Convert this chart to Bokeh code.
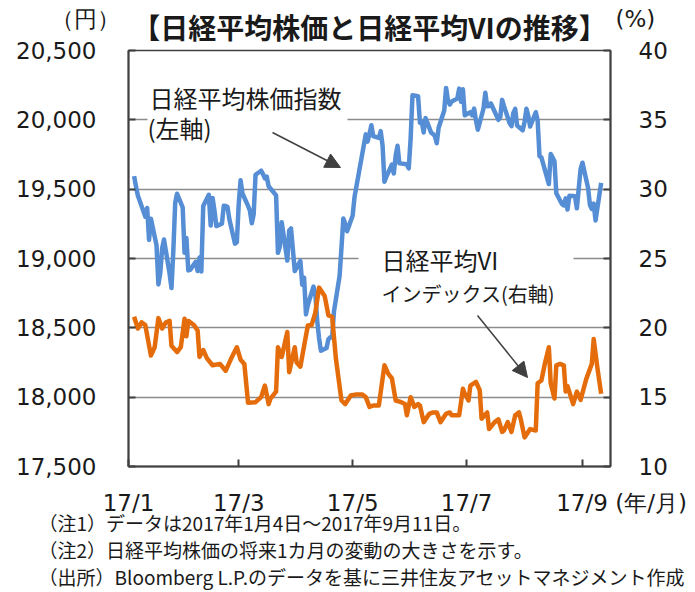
import pandas as pd
from bokeh.plotting import figure
from bokeh.models import (Range1d, LinearAxis, FixedTicker, Title,
                          CustomJSTickFormatter, Label, Arrow, NormalHead, BoxAnnotation)
from bokeh.embed import file_html
from bokeh.resources import INLINE

# ---------------- data ----------------
nikkei_dates = [
    "2017-01-04", "2017-01-05", "2017-01-06", "2017-01-10", "2017-01-11", "2017-01-12", "2017-01-13",
    "2017-01-16", "2017-01-17", "2017-01-18", "2017-01-19", "2017-01-20", "2017-01-23", "2017-01-24",
    "2017-01-25", "2017-01-26", "2017-01-27", "2017-01-30", "2017-01-31",
    "2017-02-01", "2017-02-02", "2017-02-03", "2017-02-06", "2017-02-07", "2017-02-08", "2017-02-09",
    "2017-02-10", "2017-02-13", "2017-02-14", "2017-02-15", "2017-02-16", "2017-02-17", "2017-02-20",
    "2017-02-21", "2017-02-22", "2017-02-23", "2017-02-24", "2017-02-27", "2017-02-28",
    "2017-03-01", "2017-03-02", "2017-03-03", "2017-03-06", "2017-03-07", "2017-03-08", "2017-03-09",
    "2017-03-10", "2017-03-13", "2017-03-14", "2017-03-15", "2017-03-16", "2017-03-17", "2017-03-21",
    "2017-03-22", "2017-03-23", "2017-03-24", "2017-03-27", "2017-03-28", "2017-03-29", "2017-03-30",
    "2017-03-31",
    "2017-04-03", "2017-04-04", "2017-04-05", "2017-04-06", "2017-04-07", "2017-04-10", "2017-04-11",
    "2017-04-12", "2017-04-13", "2017-04-14", "2017-04-17", "2017-04-18", "2017-04-19", "2017-04-20",
    "2017-04-21", "2017-04-24", "2017-04-25", "2017-04-26", "2017-04-27", "2017-04-28",
    "2017-05-01", "2017-05-02", "2017-05-08", "2017-05-09", "2017-05-10", "2017-05-11", "2017-05-12",
    "2017-05-15", "2017-05-16", "2017-05-17", "2017-05-18", "2017-05-19", "2017-05-22", "2017-05-23",
    "2017-05-24", "2017-05-25", "2017-05-26", "2017-05-29", "2017-05-30", "2017-05-31",
    "2017-06-01", "2017-06-02", "2017-06-05", "2017-06-06", "2017-06-07", "2017-06-08", "2017-06-09",
    "2017-06-12", "2017-06-13", "2017-06-14", "2017-06-15", "2017-06-16", "2017-06-19", "2017-06-20",
    "2017-06-21", "2017-06-22", "2017-06-23", "2017-06-26", "2017-06-27", "2017-06-28", "2017-06-29",
    "2017-06-30",
    "2017-07-03", "2017-07-04", "2017-07-05", "2017-07-06", "2017-07-07", "2017-07-10", "2017-07-11",
    "2017-07-12", "2017-07-13", "2017-07-14", "2017-07-18", "2017-07-19", "2017-07-20", "2017-07-21",
    "2017-07-24", "2017-07-25", "2017-07-26", "2017-07-27", "2017-07-28", "2017-07-31",
    "2017-08-01", "2017-08-02", "2017-08-03", "2017-08-04", "2017-08-07", "2017-08-08", "2017-08-09",
    "2017-08-10", "2017-08-14", "2017-08-15", "2017-08-16", "2017-08-17", "2017-08-18", "2017-08-21",
    "2017-08-22", "2017-08-23", "2017-08-24", "2017-08-25", "2017-08-28", "2017-08-29", "2017-08-30",
    "2017-08-31",
    "2017-09-01", "2017-09-04", "2017-09-05", "2017-09-06", "2017-09-07", "2017-09-08", "2017-09-11",
]
nikkei_values = [
    19594, 19520, 19454, 19301, 19364, 19134, 19287, 19095, 18813, 18894, 19072, 19137, 18891, 18787,
    19057, 19402, 19467, 19368, 19041,
    19148, 18914, 18918, 18976, 18910, 19007, 18907, 19378, 19459, 19238, 19437, 19347, 19234, 19251,
    19381, 19379, 19371, 19283, 19107, 19118,
    19393, 19564, 19469, 19379, 19344, 19254, 19318, 19604, 19633, 19609, 19577, 19590, 19521, 19455,
    19041, 19085, 19262, 18985, 19202, 19217, 19063, 18909,
    18983, 18810, 18861, 18597, 18664, 18797, 18747, 18552, 18426, 18335, 18355, 18418, 18432, 18430,
    18620, 18875, 19079, 19289, 19251, 19196,
    19310, 19445, 19895, 19843, 19900, 19961, 19883, 19869, 19919, 19814, 19553, 19590, 19678, 19613,
    19742, 19813, 19686, 19682, 19677, 19650,
    19860, 20177, 20170, 19979, 19984, 19909, 20013, 19908, 19898, 19883, 19831, 19943, 20067, 20230,
    20138, 20110, 20132, 20153, 20225, 20130, 20220, 20033,
    20055, 20032, 20081, 19994, 19929, 20080, 20195, 20098, 20099, 20118, 20000, 20020, 20144, 20099,
    19975, 19955, 20050, 20079, 19959, 19925,
    19985, 20080, 20029, 19952, 20055, 19996, 19738, 19729, 19537, 19753, 19729, 19702, 19470, 19393,
    19383, 19434, 19353, 19452, 19449, 19362, 19506, 19646,
    19691, 19508, 19385, 19357, 19396, 19274, 19545,
]

vi_dates = [
    "2017-01-04", "2017-01-06", "2017-01-08", "2017-01-10", "2017-01-13", "2017-01-15", "2017-01-17",
    "2017-01-19", "2017-01-21", "2017-01-23", "2017-01-24", "2017-01-27", "2017-01-29", "2017-01-31",
    "2017-02-01", "2017-02-02", "2017-02-05", "2017-02-07", "2017-02-08", "2017-02-10", "2017-02-12",
    "2017-02-15", "2017-02-19", "2017-02-22", "2017-02-25", "2017-02-28",
    "2017-03-02", "2017-03-04", "2017-03-06", "2017-03-10", "2017-03-13", "2017-03-15", "2017-03-17",
    "2017-03-18", "2017-03-21", "2017-03-22", "2017-03-24", "2017-03-27", "2017-03-28", "2017-03-31",
    "2017-04-01", "2017-04-03", "2017-04-05", "2017-04-07", "2017-04-09", "2017-04-11", "2017-04-13",
    "2017-04-16", "2017-04-18", "2017-04-20", "2017-04-22", "2017-04-25", "2017-04-27", "2017-04-30",
    "2017-05-03", "2017-05-06", "2017-05-08", "2017-05-10", "2017-05-12", "2017-05-15", "2017-05-18",
    "2017-05-20", "2017-05-22", "2017-05-24", "2017-05-27", "2017-05-29", "2017-05-30",
    "2017-06-01", "2017-06-03", "2017-06-05", "2017-06-06", "2017-06-08", "2017-06-11", "2017-06-13",
    "2017-06-15", "2017-06-17", "2017-06-20", "2017-06-22", "2017-06-23", "2017-06-27", "2017-06-29",
    "2017-06-30",
    "2017-07-02", "2017-07-03", "2017-07-06", "2017-07-08", "2017-07-09", "2017-07-12", "2017-07-13",
    "2017-07-16", "2017-07-18", "2017-07-20", "2017-07-21", "2017-07-23", "2017-07-25", "2017-07-27",
    "2017-07-29", "2017-07-30",
    "2017-08-01", "2017-08-04", "2017-08-07", "2017-08-08", "2017-08-10", "2017-08-12", "2017-08-14",
    "2017-08-15", "2017-08-17", "2017-08-18", "2017-08-20", "2017-08-22", "2017-08-23", "2017-08-24",
    "2017-08-27", "2017-08-29", "2017-08-31",
    "2017-09-03", "2017-09-06", "2017-09-07", "2017-09-09", "2017-09-11",
]
vi_values = [
    20.8, 19.95, 20.4, 20.2, 18.0, 18.6, 20.7, 19.95, 20.4, 20.5, 18.7, 18.25, 18.6, 20.65,
    19.4, 20.5, 20.2, 19.8, 17.9, 18.4, 17.8, 17.3, 17.4, 16.9, 17.8, 18.6,
    17.7, 17.4, 14.6, 14.64, 15.0, 15.84, 14.5, 14.9, 15.4, 18.6, 17.9, 19.7, 16.8, 18.6,
    17.5, 17.2, 18.7, 20.17, 20.2, 21.1, 22.9, 22.3, 20.9, 20.8, 17.8, 14.76, 14.5, 15.12,
    15.2, 15.2, 15.0, 14.3, 14.4, 14.4, 17.3, 16.7, 16.35, 14.76, 14.64, 14.5, 13.7,
    15.0, 14.3, 14.5, 14.4, 13.2, 13.8, 13.9, 13.9, 13.2, 13.8, 13.9, 13.7, 13.7, 15.6, 15.25,
    14.76, 15.84, 16.1, 15.5, 13.45, 13.9, 12.7, 13.2, 13.4, 12.5, 12.6, 13.2, 12.5, 13.7, 13.9, 13.4,
    12.1, 12.7, 12.6, 16.0, 16.2, 17.5, 18.6, 16.0, 14.9, 17.3, 17.4, 17.3, 15.4, 15.8, 14.5, 15.4, 14.8,
    16.3, 17.4, 19.2, 17.1, 15.25,
]

left_ticks = [17500, 18000, 18500, 19000, 19500, 20000, 20500]
right_ticks = [10, 15, 20, 25, 30, 35, 40]
x_tick_dates = ["2017-01-01", "2017-03-01", "2017-05-01", "2017-07-01", "2017-09-01"]

title_text = "【日経平均株価と日経平均VIの推移】"
unit_left = "（円）"
unit_right = "(%)"
unit_x = "(年/月)"
notes = [
    "（注1）データは2017年1月4日～2017年9月11日。",
    "（注2）日経平均株価の将来1カ月の変動の大きさを示す。",
    "（出所）Bloomberg L.P.のデータを基に三井住友アセットマネジメント作成",
]

# ---------------- layout constants (canvas pixels) ----------------
W, H = 692, 590
FL, FR, FT, FB = 128, 610, 50, 466  # plot frame

JP = "Noto Sans CJK JP"
NUM = "DejaVu Sans"
DARK = "#404040"
TXT = "#1a1a1a"


def ms(s):
    return pd.Timestamp(s).value / 1e6


X0, X1 = ms("2017-01-01"), ms("2017-09-16")
Y0, Y1 = 17500, 20500


def px_x(px):
    return X0 + (px - FL) / (FR - FL) * (X1 - X0)


def px_y(py):
    return Y1 - (py - FT) / (FB - FT) * (Y1 - Y0)


p = figure(width=W, height=H, x_axis_type="datetime",
           x_range=Range1d(X0, X1), y_range=Range1d(Y0, Y1),
           output_backend="svg", toolbar_location=None,
           min_border_left=FL, min_border_right=W - FR,
           min_border_top=FT, min_border_bottom=H - FB)
p.background_fill_color = "white"
p.border_fill_color = "white"
p.outline_line_color = DARK
p.outline_line_width = 1.5
p.extra_y_ranges = {"vi": Range1d(10, 40)}

# title above, footnotes below
p.add_layout(Title(text=title_text, align="center", standoff=4, vertical_align="top",
                   text_font=JP, text_font_size="28px", text_font_style="bold",
                   text_color=TXT), "above")
p.add_layout(Title(text="\n".join(notes), align="left", offset=38 - FL, standoff=-20,
                   vertical_align="top", text_font=JP, text_font_size="19px",
                   text_font_style="normal", text_line_height=1.0, text_color=TXT), "below")

# axes; unit captions ride on the end tick labels (extra text lines / padding)
p.yaxis.ticker = FixedTicker(ticks=left_ticks)
p.yaxis.formatter = CustomJSTickFormatter(args=dict(unit=unit_left, top=max(left_ticks)), code="""
    const t = Math.round(tick);
    const s = Math.floor(t / 1000) + ',' + String(t % 1000).padStart(3, '0') + '\\u3000';
    return t == top ? unit + '\\n' + s + '\\n\\u3000' : s;
""")
right = LinearAxis(y_range_name="vi", ticker=FixedTicker(ticks=right_ticks))
right.formatter = CustomJSTickFormatter(args=dict(unit=unit_right, top=max(right_ticks)), code="""
    const s = '\\u3000' + Math.round(tick);
    return Math.round(tick) == top ? unit + '\\n' + s + '\\n\\u3000' : s;
""")
p.add_layout(right, "right")

p.xaxis.ticker = FixedTicker(ticks=[ms(d) for d in x_tick_dates])
p.xaxis.formatter = CustomJSTickFormatter(args=dict(unit=unit_x), code="""
    const d = new Date(tick);
    const s = String(d.getUTCFullYear() % 100) + '/' + String(d.getUTCMonth() + 1);
    if (d.getUTCMonth() == 8) {
        return '\\u3000\\u3000\\u3000\\u2009\\u2009' + s + ' ' + unit;
    }
    return s;
""")

for ax in [p.xaxis[0], p.yaxis[0], right]:
    ax.axis_line_color = DARK
    ax.axis_line_width = 2
    ax.major_tick_line_color = DARK
    ax.major_tick_line_width = 2
    ax.major_tick_in = 7
    ax.major_tick_out = 0
    ax.minor_tick_line_color = None
    ax.major_label_text_font = NUM
    ax.major_label_text_font_size = "23px"
    ax.major_label_text_color = TXT
p.yaxis[0].major_label_standoff = 9
right.major_label_standoff = 5
p.xaxis[0].major_label_standoff = 23

p.xgrid.visible = False
p.ygrid.ticker = FixedTicker(ticks=left_ticks)
p.ygrid.grid_line_color = "#8c8c8c"
p.ygrid.grid_line_width = 1.5

# white boxes behind the in-plot annotations (they interrupt the gridlines)
p.add_layout(BoxAnnotation(left=px_x(147), right=px_x(347), top=px_y(78), bottom=px_y(145),
                           fill_color="white", fill_alpha=1, line_alpha=0, level="glyph"))
p.add_layout(BoxAnnotation(left=px_x(358), right=px_x(573), top=px_y(240), bottom=px_y(312),
                           fill_color="white", fill_alpha=1, line_alpha=0, level="glyph"))

p.line(pd.to_datetime(nikkei_dates), nikkei_values, line_color="#558ED5", line_width=4.5,
       line_join="round")
p.line(pd.to_datetime(vi_dates), vi_values, line_color="#E46C0A", line_width=4.5,
       line_join="round", y_range_name="vi")

for (xs, ys, xe, ye) in [(272, 132, 340, 167), (477, 315, 527, 377)]:
    p.add_layout(Arrow(end=NormalHead(size=15, fill_color=DARK, line_color=DARK),
                       x_start=px_x(xs), y_start=px_y(ys), x_end=px_x(xe), y_end=px_y(ye),
                       line_color=DARK, line_width=1.5))


def label(px, py, text, size):
    p.add_layout(Label(x=px_x(px), y=px_y(py), text=text, text_align="left",
                       text_baseline="middle", text_font=JP, text_font_size=size,
                       text_color=TXT))


label(149, 97, "日経平均株価指数", "24px")
label(147, 127, "(左軸)", "24px")
label(381, 259, "日経平均VI", "24px")
label(381, 293, "インデックス(右軸)", "20px")

open("out.html", "w").write(file_html(p, INLINE))
